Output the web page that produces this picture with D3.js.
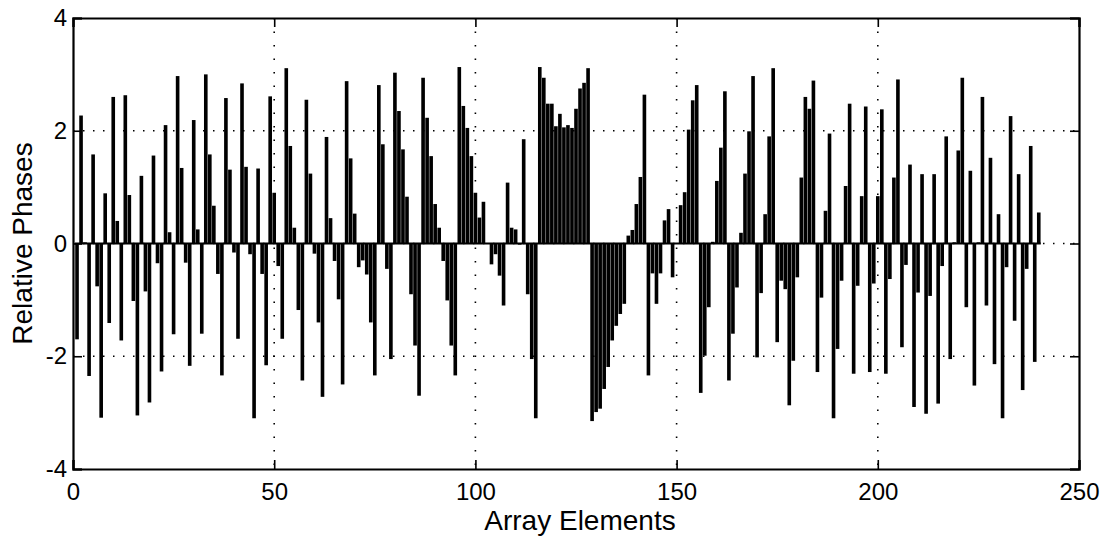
<!DOCTYPE html>
<html>
<head>
<meta charset="utf-8">
<script src="https://cdn.jsdelivr.net/npm/d3@7"></script>
<style>
  body { margin: 0; background: #fff; }
  text { font-family: "Liberation Sans", Arial, sans-serif; fill: #000; }
</style>
</head>
<body>
<script>
(function(){

  //relative phase of each array element (elements 1..240)
  var phases = [
    -1.70, 2.27, 0.02, -2.35, 1.58, -0.76, -3.09, 0.89, -1.41, 2.60,
    0.40, -1.72, 2.63, 0.86, -1.02, -3.05, 1.20, -0.85, -2.82, 1.56,
    -0.35, -2.27, 2.10, 0.20, -1.61, 2.97, 1.34, -0.34, -2.17, 2.19,
    0.25, -1.60, 3.00, 1.58, 0.67, -0.54, -2.34, 2.58, 1.31, -0.16,
    -1.69, 2.84, 1.36, -0.19, -3.10, 1.33, -0.54, -2.16, 2.61, 0.90,
    -0.40, -1.69, 3.11, 1.73, 0.28, -1.18, -2.43, 2.55, 1.24, -0.18,
    -1.40, -2.72, 1.89, 0.45, -0.31, -0.99, -2.50, 2.88, 1.51, 0.53,
    -0.42, -0.30, -0.55, -1.40, -2.34, 2.81, 1.76, -0.45, -2.05, 3.03,
    2.35, 1.67, 0.83, -0.90, -1.81, -2.70, 2.94, 2.23, 1.55, 0.70,
    0.28, -0.31, -1.01, -1.81, -2.34, 3.13, 2.44, 2.05, 1.55, 0.90,
    0.46, 0.74, 0.00, -0.37, -0.19, -0.57, -1.10, 1.08, 0.28, 0.25,
    -0.02, 1.85, -0.90, -2.05, -3.10, 3.13, 2.94, 2.48, 2.48, 2.08,
    2.30, 2.06, 2.10, 2.05, 2.39, 2.75, 2.85, 3.11, -3.15, -2.99,
    -2.93, -2.58, -2.19, -1.72, -1.46, -1.25, -1.07, 0.14, 0.24, 0.70,
    1.18, 2.64, -2.34, -0.53, -1.07, -0.53, 0.41, 0.61, -0.60, 0.00,
    0.68, 0.91, 2.02, 2.54, 2.81, -2.65, -1.99, -1.13, 0.03, 1.11,
    1.70, 2.70, -2.43, -1.60, -0.78, 0.19, 1.24, 1.99, 2.97, -2.02,
    -0.88, 0.52, 1.90, 3.11, -1.75, -0.66, -0.81, -2.87, -2.08, -0.60,
    1.17, 2.60, 2.39, 2.89, -2.28, -0.96, 0.58, 1.95, -3.10, -1.87,
    -0.66, 1.02, 2.48, -2.31, -0.75, 0.84, 2.43, -2.28, -0.71, 0.84,
    2.38, -2.31, -0.63, 1.17, 2.91, -1.84, -0.38, 1.40, -2.90, -0.87,
    1.23, -3.02, -0.93, 1.23, -2.84, -0.40, 1.90, -2.05, 0.02, 1.65,
    2.94, -1.13, 1.29, -2.52, 0.02, 2.60, -1.10, 1.52, -2.14, 0.52,
    -3.10, -0.42, 2.26, -1.37, 1.23, -2.60, -0.45, 1.73, -2.10, 0.55
  ];
  var elements = d3.range(1, phases.length + 1); //element index 1..240

  var xTicks = [0, 50, 100, 150, 200, 250];
  var yTicks = [-4, -2, 0, 2, 4];
  var xLabel = "Array Elements";
  var yLabel = "Relative Phases";

  window.onload = drawChart();

  function drawChart(){
    var width = 1105,
        height = 553;

    //plot frame, matched to the reference picture
    var frame = {left: 73, right: 1079, top: 18, bottom: 469};

    var svg = d3.select("body")
      .append("svg")
      .attr("width", width)
      .attr("height", height);

    var x = d3.scaleLinear() //element index to pixels
      .domain([0, 250])
      .range([frame.left, frame.right]);

    var y = d3.scaleLinear() //phase to pixels
      .domain([-4, 4])
      .range([frame.bottom, frame.top]);

    var barW = (x(1) - x(0)) * 0.9;

    //dotted grid, interior ticks only
    svg.append("g")
      .selectAll("line")
      .data(yTicks.filter(function(d){ return d > -4 && d < 4; }))
      .enter()
      .append("line")
      .attr("x1", frame.left).attr("x2", frame.right)
      .attr("y1", function(d){ return y(d); })
      .attr("y2", function(d){ return y(d); })
      .attr("stroke", "#000")
      .attr("stroke-width", 1.6)
      .attr("stroke-dasharray", "1.5,8.5");

    svg.append("g")
      .selectAll("line")
      .data(xTicks.filter(function(d){ return d > 0 && d < 250; }))
      .enter()
      .append("line")
      .attr("x1", function(d){ return x(d); })
      .attr("x2", function(d){ return x(d); })
      .attr("y1", frame.top).attr("y2", frame.bottom)
      .attr("stroke", "#000")
      .attr("stroke-width", 1.6)
      .attr("stroke-dasharray", "1.5,12");

    //bars
    svg.append("g")
      .selectAll("rect")
      .data(phases)
      .enter()
      .append("rect")
      .attr("x", function(d, i){ return x(elements[i]) - barW / 2; })
      .attr("width", barW)
      .attr("y", function(d){ return y(Math.max(0, d)); })
      .attr("height", function(d){ return Math.abs(y(d) - y(0)); })
      .attr("fill", "#000");

    //solid baseline under the bars
    svg.append("line")
      .attr("x1", x(0.5)).attr("x2", x(elements.length + 0.5))
      .attr("y1", y(0)).attr("y2", y(0))
      .attr("stroke", "#000")
      .attr("stroke-width", 2);

    //axes with inward ticks
    var bottomAxis = d3.axisBottom(x).tickValues(xTicks).tickSize(-9).tickPadding(14);
    var topAxis = d3.axisTop(x).tickValues(xTicks).tickSize(-9).tickFormat("");
    var leftAxis = d3.axisLeft(y).tickValues(yTicks).tickSize(-9).tickPadding(6)
      .tickFormat(function(d){ return String(d); });
    var rightAxis = d3.axisRight(y).tickValues(yTicks).tickSize(-9).tickFormat("");

    var gb = svg.append("g").attr("transform", "translate(0," + frame.bottom + ")").call(bottomAxis);
    var gt = svg.append("g").attr("transform", "translate(0," + frame.top + ")").call(topAxis);
    var gl = svg.append("g").attr("transform", "translate(" + frame.left + ",0)").call(leftAxis);
    var gr = svg.append("g").attr("transform", "translate(" + frame.right + ",0)").call(rightAxis);

    [gb, gt, gl, gr].forEach(function(g){
      g.select(".domain").attr("stroke", "#000").attr("stroke-width", 2.2);
      g.selectAll(".tick line").attr("stroke", "#000").attr("stroke-width", 1.6);
      g.selectAll("text")
        .attr("font-family", "Liberation Sans, Arial, sans-serif")
        .attr("font-size", 24)
        .attr("fill", "#000");
    });
    gb.selectAll(".tick text").attr("dy", "0.71em");

    //axis titles
    svg.append("text")
      .attr("x", 580)
      .attr("y", 530)
      .attr("text-anchor", "middle")
      .attr("font-size", 28)
      .text(xLabel);

    svg.append("text")
      .attr("transform", "translate(32," + y(0) + ") rotate(-90)")
      .attr("text-anchor", "middle")
      .attr("font-size", 28)
      .text(yLabel);
  };
})();
</script>
</body>
</html>
